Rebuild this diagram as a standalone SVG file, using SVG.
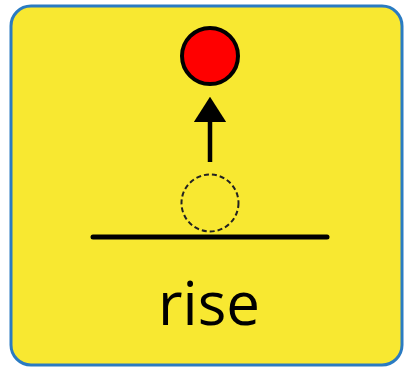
<svg xmlns="http://www.w3.org/2000/svg" width="408" height="369" viewBox="0 0 408 369">
<style>
.card{fill:#f8e831;stroke:#2a7bc2;stroke-width:3}
.ink{stroke:#000;stroke-linecap:round}
.lbl{font-family:"Open Sans","Liberation Sans",sans-serif;font-size:60px;fill:#000}
</style>
<defs>
<marker id="ah" markerWidth="6" markerHeight="7.2" refX="0" refY="3.6" orient="auto" markerUnits="strokeWidth">
<path d="M0,0 L5.6,3.6 L0,7.2 Z" fill="#000"/>
</marker>
</defs>
<g id="card"><rect class="card" x="11" y="6" width="391" height="359" rx="20"/></g>
<g id="ground"><line class="ink" x1="93" y1="237" x2="327" y2="237" stroke-width="5"/></g>
<g id="ghost"><circle cx="210" cy="203" r="28.5" fill="none" stroke="#222" stroke-width="2" stroke-dasharray="5,3"/></g>
<g id="ball"><circle cx="210" cy="56" r="28" fill="#ff0000" stroke="#000" stroke-width="4"/></g>
<g id="connectors"><line x1="210" y1="162" x2="210" y2="122" stroke="#000" stroke-width="4.5" marker-end="url(#ah)"/></g>
<g id="label"><text class="lbl" x="209" y="325" text-anchor="middle">rise</text></g>
</svg>
